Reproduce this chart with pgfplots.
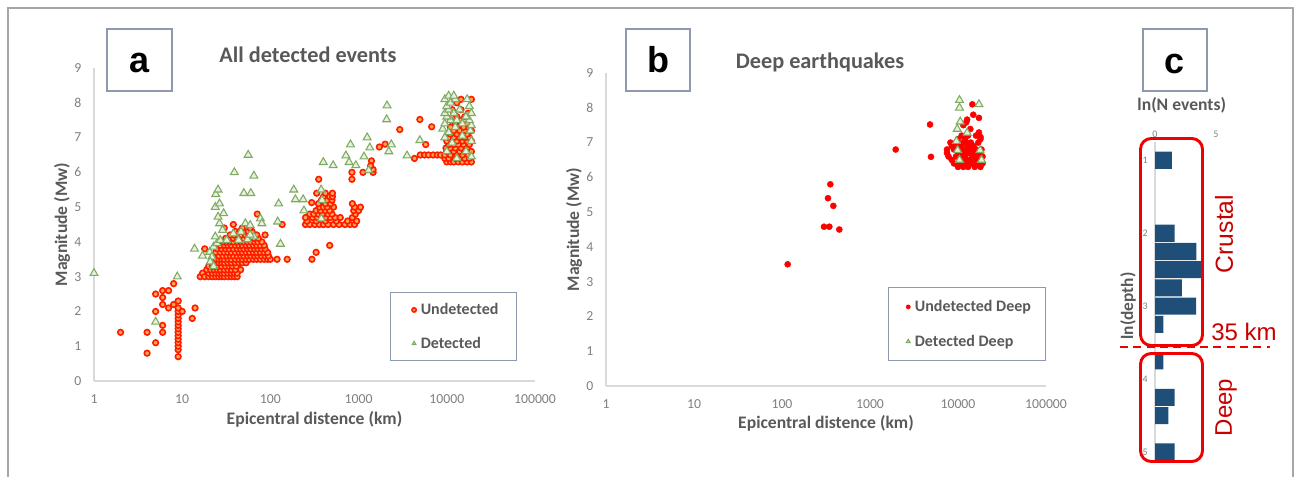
\documentclass[border=0pt]{standalone}
\usepackage{pgfplots}
\usepackage{pgfplotstable}
\pgfplotsset{compat=1.18}
\usepackage{fontspec}
\setmainfont{Carlito}
\newfontfamily\arialfont{Liberation Sans}

\definecolor{txtgray}{HTML}{595959}
\definecolor{tickgray}{HTML}{7F7F7F}
\definecolor{axgray}{HTML}{D9D9D9}
\definecolor{boxgray}{HTML}{8C99AE}
\definecolor{framegray}{HTML}{A6A6A6}
\definecolor{ptred}{HTML}{FF1A00}
\definecolor{ptfill}{HTML}{FFA850}
\definecolor{trigreen}{HTML}{7FAA62}
\definecolor{trifill}{HTML}{E6F1DE}
\definecolor{barblue}{HTML}{1F4E79}
\definecolor{annored}{HTML}{F00000}
\definecolor{annotext}{HTML}{C80000}

% ---------------- panel a: all detected events ----------------
\pgfplotstableread{
d m
2 1.4
4 1.4
4 0.8
5 2.5
5 2.0
5 1.1
6 2.6
6 2.4
6 2.2
6 1.6
6 1.4
7 2.6
7 2.1
8 2.8
8 2.2
9 0.7
9 0.9
9 1.0
9 1.1
9 1.2
9 1.3
9 1.4
9 1.5
9 1.6
9 1.7
9 1.8
9 1.9
9 2.0
9 2.1
9 2.3
10 2.0
13 1.8
14 2.1
16 3.0
17 3.1
18 3.8
18 3.0
20 3.0
22 3.0
24 3.0
26 3.0
28 3.0
30 3.0
33 3.0
36 3.0
39 3.0
42 3.0
20 3.1
22 3.1
24 3.1
26 3.1
28 3.1
30 3.1
33 3.1
36 3.1
39 3.1
42 3.1
19 3.2
21 3.2
23 3.2
25 3.2
27 3.2
30 3.2
33 3.2
36 3.2
40 3.2
46 3.2
20 3.3
22 3.3
24 3.3
26 3.3
28 3.3
31 3.3
34 3.3
37 3.3
41 3.3
22 3.4
24 3.4
26 3.4
28 3.4
30 3.4
33 3.4
36 3.4
40 3.4
44 3.4
48 3.4
53 3.4
24 3.5
26 3.5
28 3.5
30 3.5
33 3.5
36 3.5
40 3.5
44 3.5
48 3.5
53 3.5
58 3.5
64 3.5
70 3.5
77 3.5
85 3.5
93 3.5
100 3.5
119 3.5
155 3.5
23 3.6
26 3.6
29 3.6
32 3.6
35 3.6
38 3.6
42 3.6
46 3.6
50 3.6
55 3.6
60 3.6
66 3.6
72 3.6
79 3.6
87 3.6
95 3.6
24 3.7
27 3.7
30 3.7
33 3.7
36 3.7
40 3.7
44 3.7
48 3.7
53 3.7
58 3.7
64 3.7
70 3.7
77 3.7
85 3.7
93 3.7
25 3.8
28 3.8
31 3.8
34 3.8
38 3.8
42 3.8
46 3.8
50 3.8
55 3.8
60 3.8
66 3.8
72 3.8
79 3.8
87 3.8
27 3.9
30 3.9
33 3.9
36 3.9
40 3.9
44 3.9
48 3.9
53 3.9
58 3.9
64 3.9
70 3.9
77 3.9
85 3.9
29 4.0
32 4.0
35 4.0
38 4.0
42 4.0
46 4.0
50 4.0
55 4.0
60 4.0
66 4.0
72 4.0
80 4.0
31 4.1
34 4.1
38 4.1
42 4.1
46 4.1
50 4.1
55 4.1
60 4.1
66 4.1
73 4.1
35 4.2
39 4.2
43 4.2
47 4.2
52 4.2
57 4.2
63 4.2
70 4.2
87 4.2
40 4.3
45 4.3
50 4.3
56 4.3
62 4.3
30 4.4
48 4.4
59 4.4
38 4.5
136 4.5
71 4.8
296 3.5
330 3.7
470 3.9
250 4.5
280 4.5
320 4.5
360 4.5
400 4.5
450 4.5
520 4.5
600 4.5
700 4.5
800 4.5
900 4.5
260 4.6
330 4.6
420 4.6
560 4.6
750 4.6
950 4.6
250 4.7
300 4.7
340 4.7
380 4.7
430 4.7
480 4.7
540 4.7
620 4.7
850 4.7
280 4.8
310 4.8
350 4.8
390 4.8
450 4.8
500 4.8
920 4.8
330 4.9
370 4.9
420 4.9
470 4.9
880 4.9
1000 4.9
360 5.0
400 5.0
440 5.0
520 5.0
900 5.0
1050 5.0
350 5.1
420 5.1
480 5.1
850 5.1
380 5.2
440 5.2
500 5.2
400 5.3
470 5.3
505 5.3
335 5.4
420 5.4
505 5.4
294 5.13
353 5.8
840 6.0
840 5.8
1120 6.0
1460 6.0
1460 6.08
1400 6.33
1370 6.19
1720 6.73
2000 6.81
2930 7.23
4950 7.52
6740 7.31
5770 6.8
4300 6.4
10000 6.3
11000 6.3
12000 6.3
13500 6.3
15000 6.3
17000 6.3
19000 6.3
9500 6.4
10500 6.4
12500 6.4
14000 6.4
16000 6.4
18000 6.4
5000 6.5
5600 6.5
6200 6.5
7000 6.5
7800 6.5
8500 6.5
9500 6.5
11000 6.5
13000 6.5
15000 6.5
17500 6.5
10000 6.6
12000 6.6
14000 6.6
16000 6.6
19000 6.6
9800 6.7
11000 6.7
12500 6.7
14500 6.7
17000 6.7
10500 6.8
12000 6.8
13500 6.8
15500 6.8
18000 6.8
10000 6.9
11500 6.9
13000 6.9
15000 6.9
17000 6.9
19000 6.9
10500 7.0
12000 7.0
14000 7.0
16000 7.0
18000 7.0
11000 7.1
13000 7.1
15000 7.1
17000 7.1
12000 7.2
14000 7.2
16000 7.2
19000 7.2
11000 7.3
13000 7.3
15500 7.3
12500 7.4
17000 7.4
11000 7.5
14000 7.5
13000 7.6
16000 7.6
12000 7.7
17500 7.7
11500 7.8
14500 7.8
13000 8.0
14500 8.1
19000 8.1
}\undetAtable

\pgfplotstableread{
d m
1 3.1
5 1.7
8.8 3.0
13.8 3.8
17 3.6
130 3.94
20.5 3.71
21.7 3.57
20.8 3.43
22.7 3.3
22.7 3.86
24.8 3.96
27 4.05
23.7 4.15
28.7 4.34
26.5 4.53
25.5 4.72
29.5 4.82
23.7 5.0
26.5 5.1
24 5.37
25.5 5.5
38 4.24
46.4 4.29
52 4.53
59 4.48
65 4.15
55 4.07
43.6 4.05
32 4.05
59 4.2
77 4.67
80 4.53
121 4.58
124 5.1
39 6.0
56 6.5
65 5.9
50 5.4
60 5.4
184 5.5
192 5.22
235 5.22
240 4.9
376 5.5
385 5.2
378 4.67
398 6.29
515 6.2
718 6.48
809 6.8
780 6.29
930 6.2
1150 6.45
1250 7.0
1340 6.71
1300 6.06
2100 7.92
2080 7.52
2350 6.8
2200 6.6
3540 6.48
4950 6.92
13000 6.4
19000 6.45
10000 6.6
16500 6.6
11500 6.85
19000 6.9
9500 7.0
15000 7.05
10500 7.15
18500 7.2
9000 7.25
12500 7.3
19000 7.35
9500 7.4
15000 7.4
11000 7.5
13000 7.5
18000 7.5
10000 7.6
16500 7.6
9500 7.7
12000 7.7
19000 7.7
10500 7.8
14000 7.8
10000 7.9
18000 7.9
11000 8.0
9500 8.1
12500 8.1
17000 8.1
10500 8.2
12000 8.2
}\detAtable

% ---------------- panel b: deep earthquakes ----------------
\pgfplotstableread{
d m
116 3.5
300 4.58
345 4.58
448 4.5
333 5.4
383 5.18
354 5.8
1960 6.8
4810 7.52
4930 6.59
14560 8.1
14900 7.8
17300 7.71
12700 7.66
12400 7.58
11500 7.5
13800 7.39
17300 7.29
18000 7.16
10000 6.3
11500 6.3
13000 6.3
15500 6.3
18000 6.3
9000 6.4
10500 6.4
12000 6.4
14000 6.4
16500 6.4
19000 6.4
8500 6.5
11000 6.5
12500 6.5
13500 6.5
15000 6.5
17000 6.5
7800 6.6
9500 6.6
11000 6.6
12000 6.6
14500 6.6
16000 6.6
19000 6.6
7500 6.7
10000 6.7
11500 6.7
13000 6.7
15000 6.7
17500 6.7
7500 6.8
9000 6.8
10500 6.8
12000 6.8
14000 6.8
16000 6.8
18500 6.8
8500 6.9
10000 6.9
11000 6.9
13000 6.9
15000 6.9
8200 7.0
9500 7.0
11500 7.0
12500 7.0
14000 7.0
17000 7.0
10000 7.1
12000 7.1
18000 7.1
11000 7.2
13000 7.2
16000 7.2
}\undetBtable

\pgfplotstableread{
d m
10400 8.22
10400 8.0
17300 8.1
10600 7.6
9800 7.39
12700 7.28
9600 7.04
9900 6.78
17800 6.78
10400 6.5
18500 6.5
}\detBtable

% ---------------- panel c: ln(N) per ln(depth) bin ----------------
\pgfplotstableread{
n lnd
1.39 -1.0
1.61 -2.0
3.40 -2.25
3.91 -2.5
2.20 -2.75
3.37 -3.0
0.69 -3.25
0.69 -3.75
1.61 -4.25
1.10 -4.5
1.61 -5.0
}\depthhist

\begin{document}
\begin{tikzpicture}[x=0.75pt, y=0.75pt]
\useasboundingbox (0,0) rectangle (1297,476);
\draw[framegray, line width=0.8pt] (8,-10) rectangle (1293,468);

% panel a
\begin{axis}[
  at={(70.5pt,71.25pt)}, anchor=south west, scale only axis,
  width=330.75pt, height=234.75pt,
  xmode=log, xmin=1, xmax=100000, ymin=0, ymax=9,
  xtick={1,10,100,1000,10000,100000},
  xticklabels={1,10,100,1000,10000,100000},
  ytick={0,1,2,3,4,5,6,7,8,9},
  axis x line*=bottom, axis y line*=left,
  axis line style={draw=axgray, line width=1.1pt},
  major tick length=0pt, minor tick length=0pt,
  tick style={draw=none},
  /pgf/number format/assume math mode=true,
  ticklabel style={font=\fontsize{10.3}{12}\selectfont, text=tickgray},
  xticklabel style={yshift=-7pt},
  yticklabel style={xshift=-6pt},
  xlabel={Epicentral distence (km)}, ylabel={Magnitude (Mw)},
  label style={font=\bfseries\fontsize{13.2}{15}\selectfont, text=txtgray},
  xlabel style={at={(axis description cs:0.5,-0.121)}, anchor=center},
  ylabel style={at={(axis description cs:-0.0726,0.5)}, anchor=center},
  clip=false,
  legend cell align=left,
  legend image code/.code={%
    \path[draw=none, fill=none] (0pt,-1pt) rectangle (9pt,1pt);
    \draw[#1,mark size=1.6pt] plot coordinates {(6pt,0pt)};},
  legend style={at={(0.671,0.284)}, anchor=north west,
    draw=boxgray, line width=0.8pt, fill=white,
    font=\bfseries\fontsize{12}{14}\selectfont, text=txtgray,
    inner xsep=11.75pt, inner ysep=7pt, row sep=13.2pt, column sep=0pt,
    nodes={inner xsep=2pt, inner ysep=1pt}},
]
\addplot[only marks, mark=*, mark size=2.1pt,
  mark options={draw=ptred, fill=ptfill, line width=1.2pt}]
  table[x=d, y=m] {\undetAtable};
\addlegendentry{Undetected}
\addplot[only marks, mark=triangle*, mark size=3.4pt,
  mark options={draw=trigreen, fill=trifill, line width=0.8pt}]
  table[x=d, y=m] {\detAtable};
\addlegendentry{Detected}
\end{axis}

% panel b
\begin{axis}[
  at={(454.5pt,67.5pt)}, anchor=south west, scale only axis,
  width=330pt, height=234.75pt,
  xmode=log, xmin=1, xmax=100000, ymin=0, ymax=9,
  xtick={1,10,100,1000,10000,100000},
  xticklabels={1,10,100,1000,10000,100000},
  ytick={0,1,2,3,4,5,6,7,8,9},
  axis x line*=bottom, axis y line*=left,
  axis line style={draw=axgray, line width=1.1pt},
  major tick length=0pt, minor tick length=0pt,
  tick style={draw=none},
  /pgf/number format/assume math mode=true,
  ticklabel style={font=\fontsize{10.3}{12}\selectfont, text=tickgray},
  xticklabel style={yshift=-7pt},
  yticklabel style={xshift=-6pt},
  xlabel={Epicentral distence (km)}, ylabel={Magnitude (Mw)},
  label style={font=\bfseries\fontsize{13.2}{15}\selectfont, text=txtgray},
  xlabel style={at={(axis description cs:0.5,-0.118)}, anchor=center},
  ylabel style={at={(axis description cs:-0.0727,0.5)}, anchor=center},
  clip=false,
  legend cell align=left,
  legend image code/.code={%
    \path[draw=none, fill=none] (0pt,-1pt) rectangle (9pt,1pt);
    \draw[#1,mark size=1.6pt] plot coordinates {(6pt,0pt)};},
  legend style={at={(0.641,0.316)}, anchor=north west,
    draw=boxgray, line width=0.8pt, fill=white,
    font=\bfseries\fontsize{12}{14}\selectfont, text=txtgray,
    inner xsep=8.75pt, inner ysep=8.5pt, row sep=14pt, column sep=0pt,
    nodes={inner xsep=2pt, inner ysep=1pt}},
]
\addplot[only marks, mark=*, mark size=2.3pt,
  mark options={draw=red, fill=red, line width=0.3pt}]
  table[x=d, y=m] {\undetBtable};
\addlegendentry{Undetected Deep}
\addplot[only marks, mark=triangle*, mark size=3.4pt,
  mark options={draw=trigreen, fill=trifill, line width=0.8pt}]
  table[x=d, y=m] {\detBtable};
\addlegendentry{Detected Deep}
\end{axis}

% panel c
\begin{axis}[
  at={(866.25pt,9.75pt)}, anchor=south west, scale only axis,
  width=45.75pt, height=240.75pt,
  xmin=0, xmax=5, ymin=-5.15, ymax=-0.75,
  xbar, bar width=0.235,
  axis x line*=top, axis y line*=left,
  x axis line style={draw=none},
  y axis line style={draw=axgray, line width=0.8pt},
  xtick={0,5}, ytick={-5,-4,-3,-2,-1}, yticklabels={5,4,3,2,1},
  xticklabel pos=upper,
  tick style={draw=none}, major tick length=0pt,
  /pgf/number format/assume math mode=true,
  ticklabel style={font=\fontsize{7.5}{9}\selectfont, text=tickgray},
  yticklabel style={xshift=-2pt},
  title={ln(N events)},
  title style={at={(axis description cs:0.438,1.0895)}, anchor=center,
    font=\bfseries\fontsize{13.2}{15}\selectfont, text=txtgray},
  ylabel={ln(depth)},
  ylabel style={at={(axis description cs:-0.443,0.489)}, anchor=center,
    font=\bfseries\fontsize{13}{15}\selectfont, text=txtgray},
  clip=false,
]
\addplot[fill=barblue, draw=none] table[x=n, y=lnd] {\depthhist};
\end{axis}

% titles
\node[anchor=base, font=\bfseries\fontsize{16.7}{19}\selectfont, text=txtgray] at (308,413) {All detected events};
\node[anchor=base, font=\bfseries\fontsize{16.7}{19}\selectfont, text=txtgray] at (820,407) {Deep earthquakes};

% panel letters
\draw[boxgray, line width=0.8pt, fill=white] (107,385) rectangle (172,447);
\node[font=\arialfont\bfseries\fontsize{27}{30}\selectfont] at (139.5,413) {a};
\draw[boxgray, line width=0.8pt, fill=white] (626,385) rectangle (690,447);
\node[font=\arialfont\bfseries\fontsize{27}{30}\selectfont] at (658,416) {b};
\draw[boxgray, line width=0.8pt, fill=white] (1143,385) rectangle (1207,447);
\node[font=\arialfont\bfseries\fontsize{27}{30}\selectfont] at (1175,412) {c};

% crust / deep separation
\draw[annored, line width=1.7pt, dash pattern=on 6pt off 4pt] (1120,128.7) -- (1270,128.7);
\draw[annored, line width=2.2pt, rounded corners=8pt] (1140.5,130.5) rectangle (1202.5,337.5);
\draw[annored, line width=2.2pt, rounded corners=8pt] (1140.5,14.5) rectangle (1202.5,122.5);
\node[rotate=90, text=annotext, font=\arialfont\fontsize{18.5}{20}\selectfont] at (1224,242) {Crustal};
\node[text=annotext, font=\arialfont\fontsize{18}{20}\selectfont] at (1244,144) {35 km};
\node[rotate=90, text=annotext, font=\arialfont\fontsize{18}{20}\selectfont] at (1226,68.5) {Deep};
\end{tikzpicture}
\end{document}
